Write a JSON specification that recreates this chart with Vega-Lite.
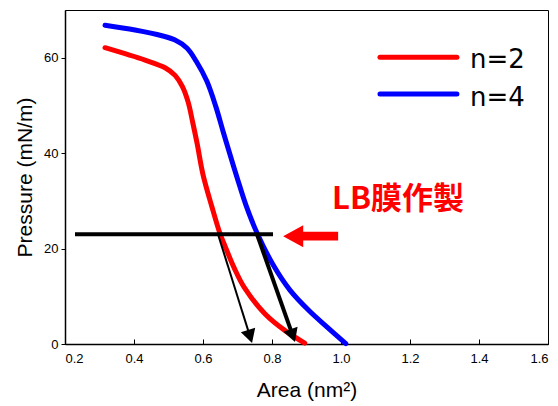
{
  "$schema": "https://vega.github.io/schema/vega-lite/v6.json",
  "width": 483,
  "height": 334,
  "autosize": {"type": "none"},
  "padding": {"left": 65, "top": 10, "right": 10, "bottom": 62},
  "background": "white",
  "config": {
    "view": {"stroke": "black", "strokeWidth": 1},
    "font": "Liberation Sans",
    "axis": {"domainColor": "black", "tickColor": "black", "labelColor": "black", "titleColor": "black", "grid": false, "labelFont": "Liberation Sans", "titleFont": "Liberation Sans", "titleFontWeight": "normal"}
  },
  "datasets": {
    "curves": [
      {"series": "n=2", "area": 0.316, "pressure": 62.1},
      {"series": "n=2", "area": 0.432, "pressure": 59.5},
      {"series": "n=2", "area": 0.490, "pressure": 57.9},
      {"series": "n=2", "area": 0.519, "pressure": 56.3},
      {"series": "n=2", "area": 0.540, "pressure": 54.0},
      {"series": "n=2", "area": 0.557, "pressure": 50.7},
      {"series": "n=2", "area": 0.570, "pressure": 46.5},
      {"series": "n=2", "area": 0.583, "pressure": 42.0},
      {"series": "n=2", "area": 0.600, "pressure": 35.5},
      {"series": "n=2", "area": 0.626, "pressure": 28.7},
      {"series": "n=2", "area": 0.649, "pressure": 23.2},
      {"series": "n=2", "area": 0.665, "pressure": 20.3},
      {"series": "n=2", "area": 0.690, "pressure": 16.0},
      {"series": "n=2", "area": 0.720, "pressure": 11.8},
      {"series": "n=2", "area": 0.780, "pressure": 6.3},
      {"series": "n=2", "area": 0.840, "pressure": 2.7},
      {"series": "n=2", "area": 0.895, "pressure": 0.2},
      {"series": "n=4", "area": 0.316, "pressure": 66.8},
      {"series": "n=4", "area": 0.403, "pressure": 65.8},
      {"series": "n=4", "area": 0.481, "pressure": 64.6},
      {"series": "n=4", "area": 0.519, "pressure": 63.7},
      {"series": "n=4", "area": 0.554, "pressure": 62.0},
      {"series": "n=4", "area": 0.580, "pressure": 59.3},
      {"series": "n=4", "area": 0.611, "pressure": 55.1},
      {"series": "n=4", "area": 0.637, "pressure": 49.8},
      {"series": "n=4", "area": 0.658, "pressure": 44.6},
      {"series": "n=4", "area": 0.680, "pressure": 39.3},
      {"series": "n=4", "area": 0.700, "pressure": 34.6},
      {"series": "n=4", "area": 0.725, "pressure": 29.0},
      {"series": "n=4", "area": 0.757, "pressure": 23.2},
      {"series": "n=4", "area": 0.804, "pressure": 16.5},
      {"series": "n=4", "area": 0.852, "pressure": 11.3},
      {"series": "n=4", "area": 0.910, "pressure": 6.8},
      {"series": "n=4", "area": 0.959, "pressure": 3.6},
      {"series": "n=4", "area": 1.014, "pressure": 0.1}
    ],
    "legend": [
      {"series": "n=2", "x1": 1.113, "x2": 1.336, "y": 60.1, "tx": 1.374, "ty": 59.6},
      {"series": "n=4", "x1": 1.113, "x2": 1.336, "y": 52.4, "tx": 1.374, "ty": 51.6}
    ]
  },
  "encoding": {
    "x": {"type": "quantitative", "scale": {"domain": [0.2, 1.6], "nice": false}},
    "y": {"type": "quantitative", "scale": {"domain": [0, 70], "nice": false}}
  },
  "layer": [
    {
      "data": {"name": "curves"},
      "mark": {"type": "line", "strokeWidth": 5, "strokeCap": "round", "interpolate": "catmull-rom"},
      "encoding": {
        "x": {"field": "area", "type": "quantitative", "scale": {"domain": [0.2, 1.6], "nice": false},
          "axis": {"title": "Area (nm²)", "values": [0.2, 0.4, 0.6, 0.8, 1.0, 1.2, 1.4, 1.6], "format": ".1f", "labelFontSize": 13, "titleFontSize": 21, "tickSize": -5, "labelPadding": 13, "titlePadding": 14, "domainWidth": 1.5}},
        "y": {"field": "pressure", "type": "quantitative", "scale": {"domain": [0, 70], "nice": false},
          "axis": {"title": "Pressure (mN/m)", "values": [0, 20, 40, 60], "labelFontSize": 13, "titleFontSize": 21, "tickSize": 4, "labelPadding": 3, "titlePadding": 8, "domainWidth": 1.5}},
        "color": {"field": "series", "type": "nominal", "scale": {"domain": ["n=2", "n=4"], "range": ["#ff0000", "#0000ff"]}, "legend": null}
      }
    },
    {
      "data": {"values": [{"x1": 0.229, "x2": 0.803, "y": 23.0}]},
      "mark": {"type": "rule", "color": "black", "strokeWidth": 4},
      "encoding": {
        "x": {"field": "x1", "type": "quantitative"},
        "x2": {"field": "x2"},
        "y": {"field": "y", "type": "quantitative"}
      }
    },
    {
      "data": {"values": [{"x1": 0.6435, "y1": 23.0, "x2": 0.7357, "y2": 1.72}]},
      "mark": {"type": "rule", "color": "black", "strokeWidth": 2},
      "encoding": {
        "x": {"field": "x1", "type": "quantitative"},
        "y": {"field": "y1", "type": "quantitative"},
        "x2": {"field": "x2"},
        "y2": {"field": "y2"}
      }
    },
    {
      "data": {"values": [{"x1": 0.7565, "y1": 23.0, "x2": 0.8594, "y2": 1.9}]},
      "mark": {"type": "rule", "color": "black", "strokeWidth": 4},
      "encoding": {
        "x": {"field": "x1", "type": "quantitative"},
        "y": {"field": "y1", "type": "quantitative"},
        "x2": {"field": "x2"},
        "y2": {"field": "y2"}
      }
    },
    {
      "data": {"values": [{"x": 0.7357, "y": 1.72}]},
      "mark": {"type": "point", "shape": "M0,1 L-1,-0.8 L1,-0.8 Z", "filled": true, "color": "black", "opacity": 1, "size": 225, "angle": 342.7},
      "encoding": {
        "x": {"field": "x", "type": "quantitative"},
        "y": {"field": "y", "type": "quantitative"}
      }
    },
    {
      "data": {"values": [{"x": 0.8594, "y": 1.9}]},
      "mark": {"type": "point", "shape": "M0,1 L-1,-0.8 L1,-0.8 Z", "filled": true, "color": "black", "opacity": 1, "size": 225, "angle": 340.6},
      "encoding": {
        "x": {"field": "x", "type": "quantitative"},
        "y": {"field": "y", "type": "quantitative"}
      }
    },
    {
      "data": {"values": [{"x": 0.912, "y": 22.6}]},
      "mark": {"type": "point", "shape": "M-1,0 L-0.27,-0.4 L-0.27,-0.16 L1,-0.16 L1,0.16 L-0.27,0.16 L-0.27,0.4 Z", "filled": true, "color": "#ff0000", "opacity": 1, "size": 3025},
      "encoding": {
        "x": {"field": "x", "type": "quantitative"},
        "y": {"field": "y", "type": "quantitative"}
      }
    },
    {
      "data": {"name": "legend"},
      "mark": {"type": "rule", "strokeWidth": 5, "strokeCap": "round"},
      "encoding": {
        "x": {"field": "x1", "type": "quantitative"},
        "x2": {"field": "x2"},
        "y": {"field": "y", "type": "quantitative"},
        "color": {"field": "series", "type": "nominal", "scale": {"domain": ["n=2", "n=4"], "range": ["#ff0000", "#0000ff"]}, "legend": null}
      }
    },
    {
      "data": {"name": "legend"},
      "mark": {"type": "text", "align": "left", "baseline": "middle", "fontSize": 26, "font": "DejaVu Sans", "color": "black"},
      "encoding": {
        "x": {"field": "tx", "type": "quantitative"},
        "y": {"field": "ty", "type": "quantitative"},
        "text": {"field": "series"}
      }
    },
    {
      "data": {"values": [{"x": 0.974, "y": 30.2, "label": "LB膜作製"}]},
      "mark": {"type": "text", "align": "left", "baseline": "middle", "fontSize": 31, "fontWeight": "bold", "font": "Noto Sans CJK JP", "color": "#ff0000"},
      "encoding": {
        "x": {"field": "x", "type": "quantitative"},
        "y": {"field": "y", "type": "quantitative"},
        "text": {"field": "label"}
      }
    }
  ]
}
